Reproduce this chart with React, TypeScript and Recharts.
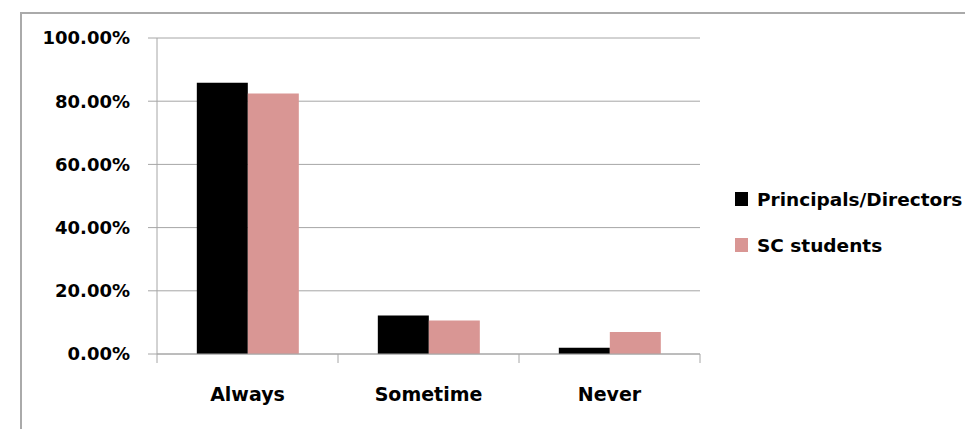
import React from "react";
import { BarChart, Bar, XAxis, YAxis, CartesianGrid } from "recharts";

// Survey responses, in percent
const categories = ["Always", "Sometime", "Never"];
const principals = [85.8, 12.2, 2.0];
const scStudents = [82.4, 10.6, 7.0];
const yTicks = [0, 20, 40, 60, 80, 100];

const seriesNames = ["Principals/Directors", "SC students"];
const seriesColors = ["#000000", "#D99694"];

const data = categories.map((c, i) => ({
  category: c,
  principals: principals[i],
  scStudents: scStudents[i],
}));

const W = 965;
const H = 429;
const MARGIN = { top: 38, right: 265, bottom: 0, left: 20 };
const Y_AXIS_W = 137;
const X_AXIS_H = 75;
const PLOT_W = W - MARGIN.left - Y_AXIS_W - MARGIN.right;
const BAND = PLOT_W / categories.length;

const FONT = "'DejaVu Sans', sans-serif";
const GRID = "#a6a6a6";

// Category label at band centre, with tick marks on the band boundaries
const CategoryTick = (props: any) => {
  const { x, y, payload, index } = props;
  const left = x - BAND / 2;
  const right = x + BAND / 2;
  return (
    <g>
      <line x1={left} y1={y} x2={left} y2={y + 9} stroke={GRID} strokeWidth={1} />
      {index === categories.length - 1 && (
        <line x1={right} y1={y} x2={right} y2={y + 9} stroke={GRID} strokeWidth={1} />
      )}
      <text
        x={x}
        y={y + 40}
        dy="0.36em"
        textAnchor="middle"
        fill="#000"
        fontSize={19}
        fontWeight="bold"
        fontFamily={FONT}
      >
        {payload.value}
      </text>
    </g>
  );
};

const LegendBox = () => (
  <div style={{ position: "absolute", left: 735, top: 186, fontFamily: FONT }}>
    {seriesNames.map((name, i) => (
      <div
        key={name}
        style={{
          display: "flex",
          alignItems: "center",
          height: 26,
          marginBottom: i === 0 ? 20 : 0,
          whiteSpace: "nowrap",
        }}
      >
        <span
          style={{
            display: "inline-block",
            width: 13,
            height: 14,
            background: seriesColors[i],
            marginRight: 9,
          }}
        />
        <span style={{ fontSize: 18.5, fontWeight: "bold", color: "#000" }}>{name}</span>
      </div>
    ))}
  </div>
);

export default function App() {
  return (
    <div
      style={{
        position: "absolute",
        left: 0,
        top: 0,
        width: W,
        height: H,
        overflow: "hidden",
        background: "#fff",
      }}
    >
      <div
        style={{
          position: "absolute",
          left: 20,
          top: 12,
          width: W,
          height: H,
          borderLeft: "2px solid #aaaaaa",
          borderTop: "2px solid #aaaaaa",
          boxSizing: "border-box",
        }}
      />
      <div style={{ position: "absolute", left: 0, top: 0 }}>
        <BarChart
          width={W}
          height={H}
          data={data}
          margin={MARGIN}
          barCategoryGap="22%"
          barGap={0}
        >
          <CartesianGrid vertical={false} stroke={GRID} />
          <XAxis
            dataKey="category"
            height={X_AXIS_H}
            axisLine={{ stroke: GRID }}
            tickLine={false}
            tickSize={0}
            tickMargin={0}
            interval={0}
            tick={<CategoryTick />}
          />
          <YAxis
            width={Y_AXIS_W}
            domain={[0, 100]}
            ticks={yTicks}
            interval={0}
            axisLine={{ stroke: GRID }}
            tickLine={{ stroke: GRID }}
            tickSize={9}
            tickMargin={18}
            tickFormatter={(v: number) => `${v.toFixed(2)}%`}
            tick={{ fill: "#000", fontSize: 18, fontWeight: "bold", fontFamily: FONT }}
          />
          <Bar dataKey="principals" name={seriesNames[0]} fill={seriesColors[0]} isAnimationActive={false} />
          <Bar dataKey="scStudents" name={seriesNames[1]} fill={seriesColors[1]} isAnimationActive={false} />
        </BarChart>
      </div>
      <LegendBox />
    </div>
  );
}
